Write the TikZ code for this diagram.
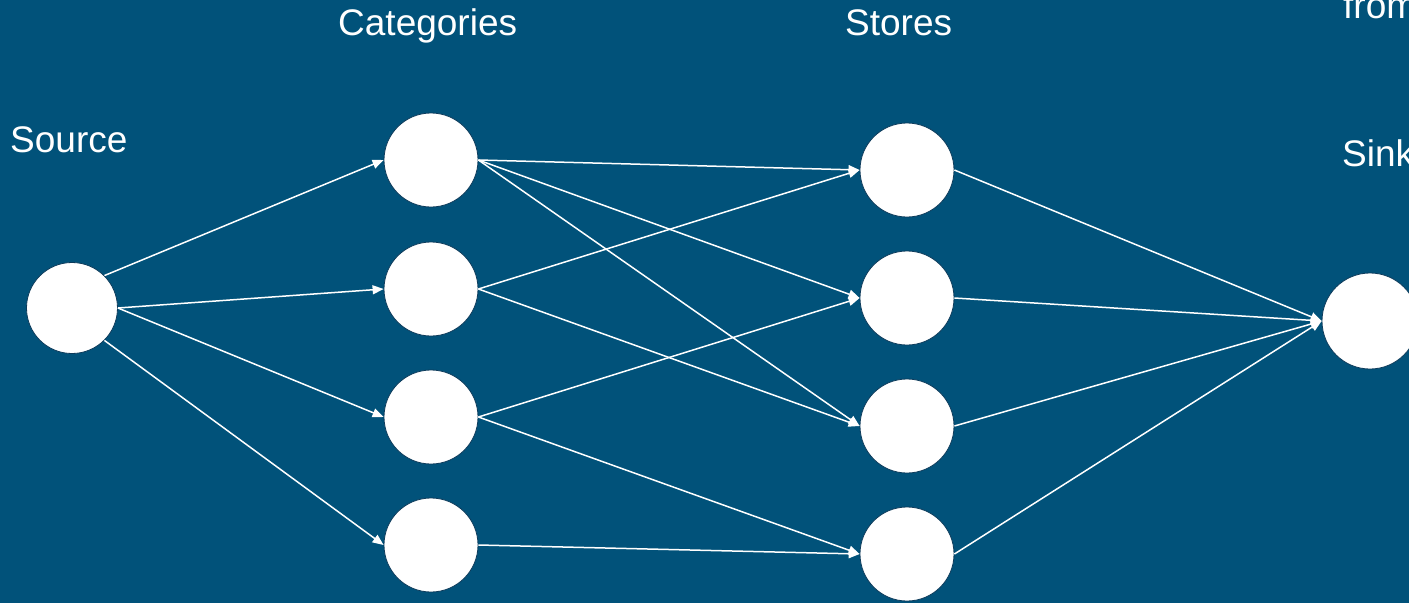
\documentclass[tikz,border=0pt]{standalone}
\usepackage{fontspec}
\setmainfont{Liberation Sans}
\usetikzlibrary{arrows.meta}
\definecolor{bgblue}{RGB}{1,82,122}
\definecolor{rimblue}{RGB}{12,58,90}
\tikzset{
  vertex/.style={circle, fill=white, draw=rimblue, line width=0.8pt, minimum size=94pt, inner sep=0pt},
  title/.style={text=white, font=\fontsize{37}{44}\selectfont, inner sep=0pt, anchor=base west},
  flow/.style={draw=white, line width=1.5pt, -{Triangle[length=11pt,width=9pt]}}
}
\begin{document}
\begin{tikzpicture}[x=1pt,y=-1pt]
  \fill[bgblue] (0,0) rectangle (1409,603);
  \useasboundingbox (0,0) rectangle (1409,603);

  % column headings
  \node[title] (lsrc) at (10,152) {Source};
  \node[title] (lcat) at (338,35) {Categories};
  \node[title] (lsto) at (845,35) {Stores};
  \node[title] (lfrom) at (1343,18) {from};
  \node[title] (lsink) at (1342,166) {Sink};

  % vertices
  \node[vertex, minimum size=91pt] (src) at (72,308) {};
  \node[vertex] (c1) at (431,160) {};
  \node[vertex] (c2) at (431,289) {};
  \node[vertex] (c3) at (431,417) {};
  \node[vertex] (c4) at (431,545) {};
  \node[vertex] (s1) at (907,170) {};
  \node[vertex] (s2) at (907,298) {};
  \node[vertex] (s3) at (907,426) {};
  \node[vertex] (s4) at (907,554) {};
  \node[vertex, minimum size=96pt] (snk) at (1370,321) {};

  % source to categories
  \draw[flow] (src.north east) -- (c1.west);
  \draw[flow] (src.east) -- (c2.west);
  \draw[flow] (src.east) -- (c3.west);
  \draw[flow] (src.south east) -- (c4.west);

  % categories to stores
  \draw[flow] (c1.east) -- (s1.west);
  \draw[flow] (c1.east) -- (s2.west);
  \draw[flow] (c1.east) -- (s3.west);
  \draw[flow] (c2.east) -- (s1.west);
  \draw[flow] (c2.east) -- (s3.west);
  \draw[flow] (c3.east) -- (s2.west);
  \draw[flow] (c3.east) -- (s4.west);
  \draw[flow] (c4.east) -- (s4.west);

  % stores to sink
  \draw[flow] (s1.east) -- (snk.west);
  \draw[flow] (s2.east) -- (snk.west);
  \draw[flow] (s3.east) -- (snk.west);
  \draw[flow] (s4.east) -- (snk.west);
\end{tikzpicture}
\end{document}
